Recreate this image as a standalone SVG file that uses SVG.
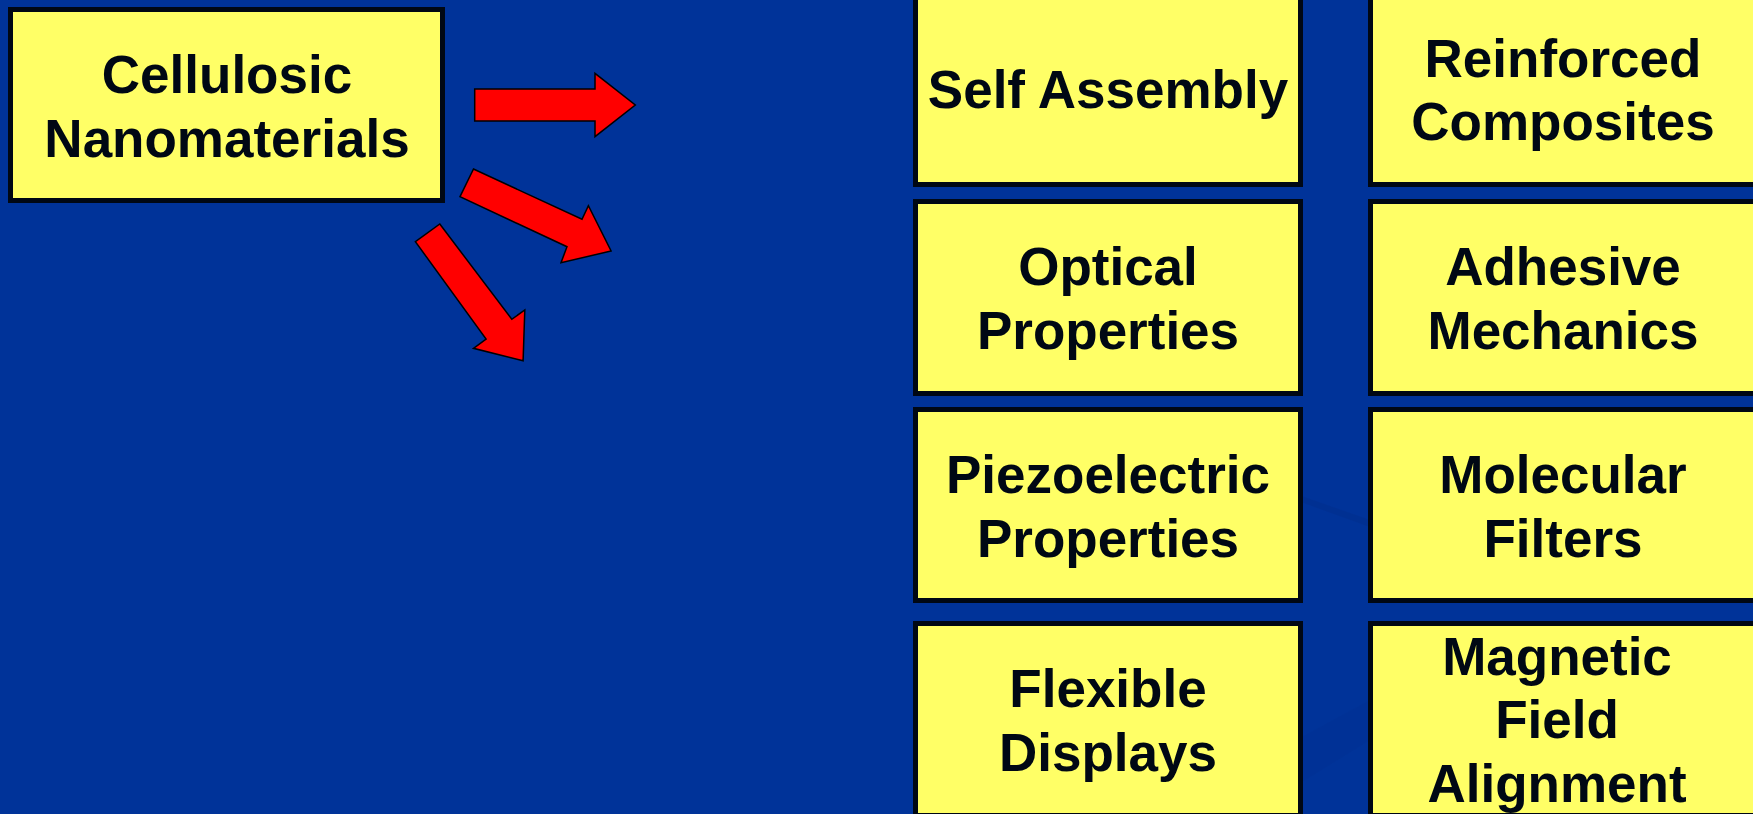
<svg xmlns="http://www.w3.org/2000/svg" width="1753" height="814" viewBox="0 0 1753 814">
<style>
.box{fill:#FFFF66;stroke:#000814;stroke-width:5}
.t{font-family:"Liberation Sans",Arial,sans-serif;font-weight:bold;font-size:53px;fill:#000814;text-anchor:middle}
.arr{fill:#FF0000;stroke:#000000;stroke-width:1.5;stroke-linejoin:miter}
</style>
<rect x="0" y="0" width="1753" height="814" fill="#003399"/>
<g id="background-streaks" opacity="0.5">
<path d="M1240,480 L1370,527 L1370,520 L1250,478 Z" fill="#002a80" opacity="0.5"/>
<path d="M1160,814 L1370,700 L1370,740 L1250,814 Z" fill="#00318f" opacity="0.6"/>
</g>
<g id="connectors">
<polygon class="arr" points="474.7,89 595,89 595,73.3 635.3,105 595,136.7 595,121 474.7,121"/>
<polygon class="arr" points="473.5,169 582,219.3 588.4,205.7 611.1,251 561,262.7 567,246.7 460,196.7"/>
<polygon class="arr" points="439.8,224 511.8,319.3 524.8,310 523.1,360.7 473.5,348.3 486.1,339 415.4,241.7"/>
</g>
<g id="cellulosic">
<rect class="box" x="10.5" y="9.5" width="432" height="191"/>
<text class="t" x="227" y="93">Cellulosic</text>
<text class="t" x="227" y="157">Nanomaterials</text>
</g>
<g id="self-assembly">
<rect class="box" x="915.5" y="-8" width="385" height="192.5"/>
<text class="t" x="1108" y="108">Self Assembly</text>
</g>
<g id="optical">
<rect class="box" x="915.5" y="201.5" width="385" height="192"/>
<text class="t" x="1108" y="285">Optical</text>
<text class="t" x="1108" y="348.5">Properties</text>
</g>
<g id="piezoelectric">
<rect class="box" x="915.5" y="409.5" width="385" height="191"/>
<text class="t" x="1108" y="492.7">Piezoelectric</text>
<text class="t" x="1108" y="556.7">Properties</text>
</g>
<g id="flexible">
<rect class="box" x="915.5" y="623.5" width="385" height="192"/>
<text class="t" x="1108" y="707.3">Flexible</text>
<text class="t" x="1108" y="771">Displays</text>
</g>
<g id="reinforced">
<rect class="box" x="1370.5" y="-8" width="385" height="192.5"/>
<text class="t" x="1563" y="76.7">Reinforced</text>
<text class="t" x="1563" y="140">Composites</text>
</g>
<g id="adhesive">
<rect class="box" x="1370.5" y="201.5" width="385" height="192"/>
<text class="t" x="1563" y="285">Adhesive</text>
<text class="t" x="1563" y="348.5">Mechanics</text>
</g>
<g id="molecular">
<rect class="box" x="1370.5" y="409.5" width="385" height="191"/>
<text class="t" x="1563" y="492.7">Molecular</text>
<text class="t" x="1563" y="556.7">Filters</text>
</g>
<g id="magnetic">
<rect class="box" x="1370.5" y="623.5" width="385" height="192"/>
<text class="t" x="1557" y="675">Magnetic</text>
<text class="t" x="1557" y="738.3">Field</text>
<text class="t" x="1557" y="801.7">Alignment</text>
</g>
</svg>
